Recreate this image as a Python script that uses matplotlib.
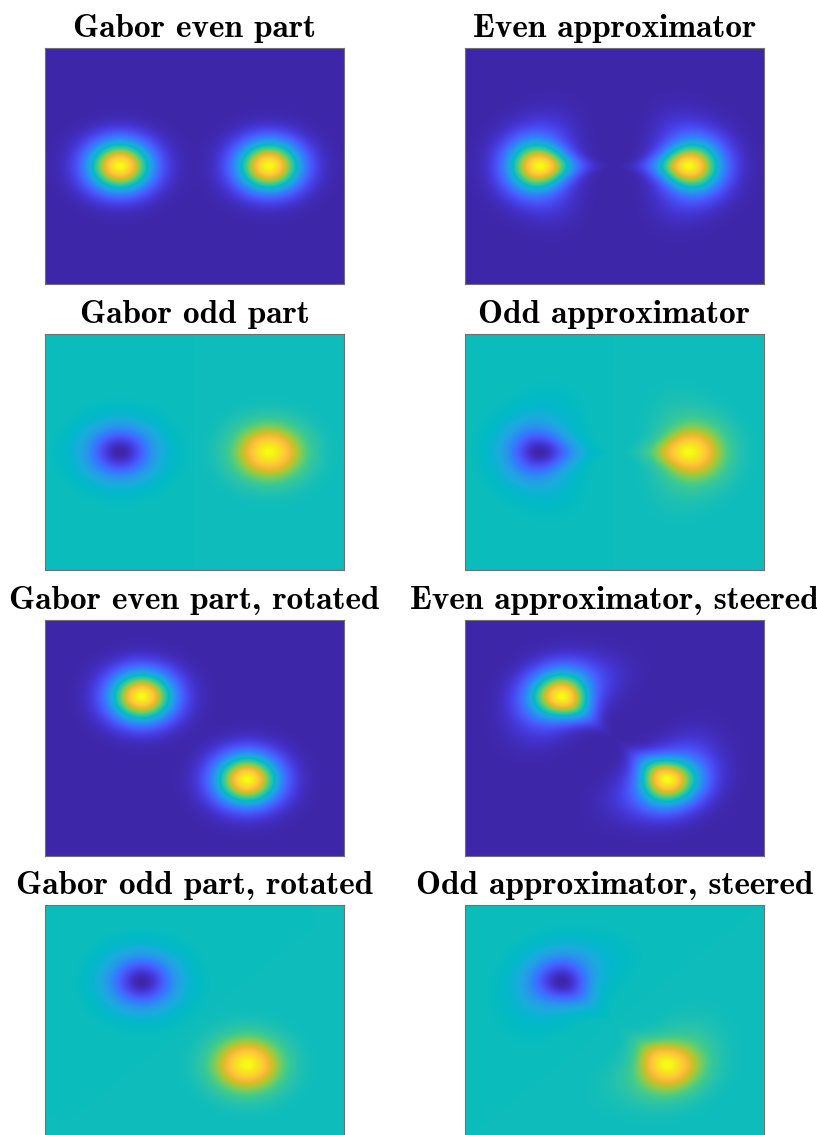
import numpy as np
import matplotlib
matplotlib.use("Agg")
import matplotlib.pyplot as plt
from matplotlib.colors import LinearSegmentedColormap

# panel titles, row by row (left = Gabor, right = approximator)
titles = [
    ["Gabor even part", "Even approximator"],
    ["Gabor odd part", "Odd approximator"],
    ["Gabor even part, rotated", "Even approximator, steered"],
    ["Gabor odd part, rotated", "Odd approximator, steered"],
]

# filter parameters in normalised frequency (-1..1 on both axes)
centreFreq = 0.5            # radius of the passband
sigmaFreq = 0.15            # gaussian width of the passband
angPowers = [16, 4]         # cos^n terms of the approximators' angular profile
angWeights = [0.75, 0.25]
rowAngles = [0, 0, 45, 45]  # filter orientation per row, degrees
rowParity = ["even", "odd", "even", "odd"]
gridSize = 301

# parula-like colour table
parulaRGB = [
    (0.2422, 0.1504, 0.6603), (0.2578, 0.1818, 0.7511), (0.2706, 0.2147, 0.8364),
    (0.2783, 0.2559, 0.8991), (0.2813, 0.3006, 0.9414), (0.2795, 0.3447, 0.9717),
    (0.2699, 0.3892, 0.9906), (0.2440, 0.4358, 0.9988), (0.1963, 0.4847, 0.9892),
    (0.1786, 0.5289, 0.9682), (0.1687, 0.5703, 0.9359), (0.1460, 0.6091, 0.9079),
    (0.1248, 0.6459, 0.8883), (0.0952, 0.6798, 0.8598), (0.0297, 0.7082, 0.8163),
    (0.0067, 0.7312, 0.7660), (0.0964, 0.7500, 0.7120), (0.1717, 0.7670, 0.6554),
    (0.2161, 0.7843, 0.5923), (0.2906, 0.7973, 0.5188), (0.3909, 0.8029, 0.4354),
    (0.5044, 0.7993, 0.3480), (0.6174, 0.7876, 0.2612), (0.7242, 0.7698, 0.1910),
    (0.8203, 0.7498, 0.1535), (0.9035, 0.7330, 0.1774), (0.9728, 0.7298, 0.2394),
    (0.9970, 0.7659, 0.2199), (0.9892, 0.8136, 0.1885), (0.9739, 0.8627, 0.1598),
    (0.9611, 0.9147, 0.1087), (0.9769, 0.9839, 0.0805),
]
parula = LinearSegmentedColormap.from_list("parula", parulaRGB, N=256)


def gabor(fx, fy, theta, parity):
    ux, uy = centreFreq * np.cos(theta), centreFreq * np.sin(theta)
    pos = np.exp(-((fx - ux)**2 + (fy - uy)**2) / (2 * sigmaFreq**2))
    neg = np.exp(-((fx + ux)**2 + (fy + uy)**2) / (2 * sigmaFreq**2))
    if parity == "even":
        return pos + neg
    return pos - neg


def approximator(fx, fy, theta, parity):
    # polar separable: radial gaussian times a sum of |cos|^n of the angle
    r = np.hypot(fx, fy)
    c = np.cos(np.arctan2(fy, fx) - theta)
    radial = np.exp(-(r - centreFreq)**2 / (2 * sigmaFreq**2))
    ang = sum(w * np.abs(c)**n for w, n in zip(angWeights, angPowers))
    if parity == "odd":
        ang = ang * np.sign(c)
    return radial * ang


f = np.linspace(-1, 1, gridSize)
FX, FY = np.meshgrid(f, f)

fig = plt.figure(figsize=(8.17, 11.35), dpi=100)
W, H = 817.0, 1135.0
colLeft = [45, 465]
rowTop = [48, 334, 620, 905]
axW, axH = 299, 236

for row in range(4):
    theta = np.deg2rad(rowAngles[row])
    for col in range(2):
        if col == 0:
            Z = gabor(FX, FY, theta, rowParity[row])
        else:
            Z = approximator(FX, FY, theta, rowParity[row])
        ax = fig.add_axes([colLeft[col] / W, 1 - (rowTop[row] + axH) / H, axW / W, axH / H])
        ax.imshow(Z, cmap=parula, extent=(-1, 1, 1, -1), aspect="auto",
                  interpolation="bilinear", vmin=Z.min(), vmax=Z.max())
        ax.set_xticks([])
        ax.set_yticks([])
        for s in ax.spines.values():
            s.set_color("#707070")
            s.set_linewidth(0.8)
        ax.set_title(titles[row][col], fontfamily="cmb10", fontsize=24, pad=8)

fig.savefig("out.png", dpi=100)
